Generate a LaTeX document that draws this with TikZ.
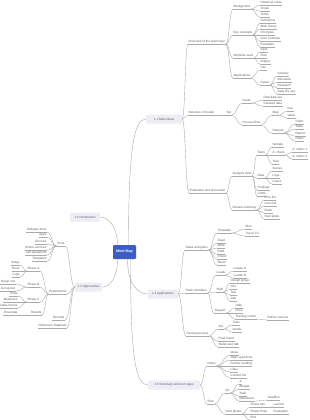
\documentclass[tikz,border=0pt]{standalone}
\usepackage{fontspec}
\setmainfont{Liberation Sans}
\usetikzlibrary{calc}
\definecolor{lc}{HTML}{ABABAB}
\definecolor{tc}{HTML}{5E5E5E}
\definecolor{bx}{HTML}{ECEDF5}
\definecolor{cb}{HTML}{3C5CC6}
\begin{document}
\begin{tikzpicture}[x=1pt,y=-1pt,
 tf/.style={font=\fontsize{3.1}{3.5}\selectfont},
 ulc/.style={draw=lc, line width=0.35pt},
 lf/.style={tf, text=tc, inner sep=0.4pt, text height=2.3pt, text depth=0.6pt,
   append after command={(\tikzlastnode.south west) edge[ulc] (\tikzlastnode.south east)}},
 R/.style={lf, anchor=west},
 L/.style={lf, anchor=east},
 box/.style={tf, text=tc, fill=bx, rounded corners=1pt, minimum height=9pt, inner sep=0},
 conn/.style={draw=lc, line width=0.4pt},
 cv/.style={to path={let \p1=(\tikztostart), \p2=(\tikztotarget) in
   .. controls ({(\x1+\x2)/2},\y1) and ({(\x1+\x2)/2},\y2) .. (\tikztotarget)}}
]
\useasboundingbox[fill=white] (0,0) rectangle (310,420);

% centre
\node[fill=cb, text=white, font=\fontsize{3.6}{4}\selectfont\bfseries, minimum width=23pt, minimum height=14pt, inner sep=0, rounded corners=1pt] (ctr) at (124.5,252) {Mind Map};

% level 1
\node[box, minimum width=36pt] (n1) at (164,119) {1.1 Main ideas};
\node[box, minimum width=30pt] (n2) at (85,217) {1.2 Introduction};
\node[box, minimum width=27pt] (n3) at (88.5,287) {1.3 Approaches};
\node[box, minimum width=30pt] (n4) at (163,294) {1.4 Applications};
\node[box, minimum width=52pt] (n5) at (174,385) {1.5 Summary and next steps};

\coordinate (cN1) at ([xshift=4pt]ctr.north);
\coordinate (cN2) at ([xshift=-7pt]ctr.north);
\coordinate (cS1) at ([xshift=-7pt]ctr.south);
\coordinate (cS2) at ([xshift=3pt]ctr.south);
\coordinate (cS3) at ([xshift=6pt]ctr.south);
\draw[conn] (cN1) .. controls +(0,-95) and +(-12,0) .. (n1.west);
\draw[conn] (cN2) .. controls +(0,-18) and +(8,0) .. (n2.east);
\draw[conn] (cS1) .. controls +(0,18) and +(8,0) .. (n3.east);
\draw[conn] (cS2) .. controls +(0,25) and +(-10,0) .. (n4.west);
\draw[conn] (cS3) .. controls +(0,100) and +(-12,0) .. (n5.west);

% ---- 1.1 subtree
\node[R] (A) at (188,42) {Overview of the main topic};
\node[R] (A1) at (233,7) {Background};
\node[R] (A1a) at (260,3) {Historical notes};
\node[R] (A1b) at (260,9) {Scope};
\node[R] (A1c) at (260,15) {Terms};
\node[R] (A2) at (233,33) {Key concepts};
\node[R] (A2a) at (260,21) {Definitions};
\node[R] (A2b) at (260,27) {Main theory};
\node[R] (A2c) at (260,33) {Principles};
\node[R] (A2d) at (260,39) {Core formulas};
\node[R] (A2e) at (260,45) {Examples};
\node[R] (A3) at (233,56) {Methods used};
\node[R] (A3a) at (260,50) {Input};
\node[R] (A3b) at (260,56) {Plan};
\node[R] (A3c) at (260,62) {Output};
\node[R] (A4) at (233,76) {Applications};
\node[R] (A4a) at (260,68) {Use};
\node[R] (A4b) at (260,83) {Cases};
\node[R] (A4b1) at (277,74) {Industry};
\node[R] (A4b2) at (277,80) {Education};
\node[R] (A4b3) at (277,86) {Research};
\node[R] (A4b4) at (277,92) {Daily life use};

\node[R] (B) at (188,113) {Structure of model};
\node[R] (B1) at (226,113) {Set};
\node[R] (B1a) at (242,101) {Inputs};
\node[R] (B1a1) at (263,98) {Raw data set};
\node[R] (B1a2) at (263,104) {Cleaned data};
\node[R] (B1b) at (242,123) {Process flow};
\node[R] (B1b1) at (272,113) {Map};
\node[R] (B1b1a) at (287,109) {Key};
\node[R] (B1b1b) at (287,116) {Value};
\node[R] (B1b2) at (272,131) {Outputs};
\node[R] (B1b2a) at (295,122) {Chart};
\node[R] (B1b2b) at (295,127) {Table};
\node[R] (B1b2c) at (295,134) {Report};
\node[R] (B1b2d) at (295,139) {Notes};

\node[R] (C) at (189,191) {Evaluation and discussion};
\node[R] (C1) at (232,174) {Analysis tools};
\node[R] (C1a) at (257,153) {Tests};
\node[R] (C1a1) at (272,145) {Sample};
\node[R] (C1a2) at (272,153) {A. check};
\node[R] (C1a2a) at (292,150) {A. metric 1};
\node[R] (C1a2b) at (292,157) {A. metric 2};
\node[R] (C1a3) at (272,162) {Trial};
\node[R] (C1b) at (257,176) {Data};
\node[R] (C1b1) at (272,169) {Survey};
\node[R] (C1b2) at (272,176) {Logs};
\node[R] (C1b3) at (272,182) {Cases};
\node[R] (C1c) at (257,188) {Findings};
\node[R] (C1d) at (257,194) {Limits};
\node[R] (C2) at (232,208) {Review summary};
\node[R] (C2a) at (264,198) {Pros list};
\node[R] (C2b) at (264,204) {Cons list};
\node[R] (C2c) at (264,211) {Risks};
\node[R] (C2d) at (264,217) {Next steps};

% ---- 1.4 subtree
\node[R] (D1) at (185,248) {Tasks and plans};
\node[R] (D1a) at (217,231) {Timetable};
\node[R] (D1a1) at (245,227) {Mon};
\node[R] (D1a2) at (245,234) {Tue to Fri};
\node[R] (D1b) at (217,241) {Read};
\node[R] (D1c) at (217,246) {Write};
\node[R] (D1d) at (217,252) {Draft};
\node[R] (D1e) at (217,257) {Check};
\node[R] (D1f) at (217,263) {Share};
\node[R] (D2) at (185,291) {Team members};
\node[R] (D2a) at (216,273) {Leads};
\node[R] (D2a1) at (233,269) {Leader A};
\node[R] (D2a2) at (233,276) {Leader B};
\node[R] (D2b) at (216,290) {Staff};
\node[R] (D2b1) at (230,281) {Design group};
\node[R] (D2b2) at (230,287) {Dev};
\node[R] (D2b3) at (230,293) {Test};
\node[R] (D2b4) at (230,299) {Ops};
\node[R] (D2c) at (214,311) {Support};
\node[R] (D2c1) at (235,306) {Help};
\node[R] (D2c2) at (235,311) {Docs};
\node[R] (D2c3) at (235,317) {Training center};
\node[R] (D2c3a) at (267,318) {Online courses};
\node[R] (D3) at (186,334) {Review process};
\node[R] (D3a) at (218,327) {QA};
\node[R] (D3a1) at (232,323) {Tests};
\node[R] (D3a2) at (232,330) {Audits};
\node[R] (D3b) at (218,339) {Final report};
\node[R] (D3c) at (218,345) {Slides and talk};

% ---- 1.5 subtree
\node[R] (E1) at (207,364) {Notes};
\node[R] (E1a) at (230,353) {Ideas};
\node[R] (E1b) at (230,358) {Open questions};
\node[R] (E1c) at (230,364) {Further reading};
\node[R] (E1d) at (230,370) {Links};
\node[R] (E1e) at (230,376) {Contact list};
\node[R] (E2) at (207,402) {Plan};
\node[R] (E2a) at (225,391) {Q1};
\node[R] (E2a1) at (239,382) {A};
\node[R] (E2a2) at (239,387) {Budget};
\node[R] (E2a3) at (239,394) {Staff};
\node[R] (E2a4) at (239,399) {Milestones};
\node[R] (E2a4a) at (267,398) {Deadline};
\node[R] (E2b) at (225,412) {Next phase};
\node[R] (E2b1) at (250,405) {Phase two};
\node[R] (E2b1a) at (273,405) {Launch};
\node[R] (E2b2) at (250,412) {Phase three};
\node[R] (E2b2a) at (273,412) {Evaluation};
\node[R] (E2b3) at (250,418) {End};

% ---- 1.3 subtree (left)
\node[L] (G0) at (65,244) {Tools};
\node[L] (G0a) at (47,230) {Software tools};
\node[L] (G0b) at (47,235) {Apps};
\node[L] (G0c) at (47,242) {Devices};
\node[L] (G0d) at (47,248) {Online services};
\node[L] (G0e) at (47,253) {Lab equipment};
\node[L] (G0f) at (47,259) {Templates};
\node[L] (G1) at (67,292) {Experiments};
\node[L] (G1a) at (40,269) {Phase A};
\node[L] (G1a1) at (20,263) {Setup};
\node[L] (G1a2) at (20,269) {Runs};
\node[L] (G1a3) at (20,275) {Logs};
\node[L] (G1b) at (40,285) {Phase B};
\node[L] (G1b1) at (16,282) {Group one};
\node[L] (G1b2) at (16,289) {Group two};
\node[L] (G1c) at (40,300) {Phase C};
\node[L] (G1c1) at (18,294) {Trials};
\node[L] (G1c2) at (18,300) {Measures};
\node[L] (G1c3) at (18,306) {Data checks};
\node[L] (G1d) at (42,313) {Results};
\node[L] (G1d1) at (18,313) {Final data};
\node[L] (G2) at (65,318) {Records};
\node[L] (G3) at (67,326) {Reference materials};

% ---- connectors from boxes
\foreach \b in {A,B,C} \draw[conn] (n1.east) to[cv] (\b.south west);
\foreach \b in {D1,D2,D3} \draw[conn] (n4.east) to[cv] (\b.south west);
\foreach \b in {E1,E2} \draw[conn] (n5.east) to[cv] (\b.south west);
\foreach \b in {G0,G1,G2,G3} \draw[conn] (n3.west) to[cv] (\b.south east);

% ---- right-side connectors
\foreach \a/\b in {A/A1,A/A2,A/A3,A/A4,A1/A1a,A1/A1b,A1/A1c,A2/A2a,A2/A2b,A2/A2c,A2/A2d,A2/A2e,
  A3/A3a,A3/A3b,A3/A3c,A4/A4a,A4/A4b,A4b/A4b1,A4b/A4b2,A4b/A4b3,A4b/A4b4,
  B/B1,B1/B1a,B1/B1b,B1a/B1a1,B1a/B1a2,B1b/B1b1,B1b/B1b2,B1b1/B1b1a,B1b1/B1b1b,
  B1b2/B1b2a,B1b2/B1b2b,B1b2/B1b2c,B1b2/B1b2d,
  C/C1,C/C2,C1/C1a,C1/C1b,C1/C1c,C1/C1d,C1a/C1a1,C1a/C1a2,C1a/C1a3,C1a2/C1a2a,C1a2/C1a2b,
  C1b/C1b1,C1b/C1b2,C1b/C1b3,C2/C2a,C2/C2b,C2/C2c,C2/C2d,
  D1/D1a,D1/D1b,D1/D1c,D1/D1d,D1/D1e,D1/D1f,D1a/D1a1,D1a/D1a2,
  D2/D2a,D2/D2b,D2/D2c,D2a/D2a1,D2a/D2a2,D2b/D2b1,D2b/D2b2,D2b/D2b3,D2b/D2b4,
  D2c/D2c1,D2c/D2c2,D2c/D2c3,D2c3/D2c3a,
  D3/D3a,D3/D3b,D3/D3c,D3a/D3a1,D3a/D3a2,
  E1/E1a,E1/E1b,E1/E1c,E1/E1d,E1/E1e,E2/E2a,E2/E2b,E2a/E2a1,E2a/E2a2,E2a/E2a3,E2a/E2a4,
  E2a4/E2a4a,E2b/E2b1,E2b/E2b2,E2b/E2b3,E2b1/E2b1a,E2b2/E2b2a}
  \draw[conn] (\a.south east) to[cv] (\b.south west);

% ---- left-side connectors
\foreach \a/\b in {G0/G0a,G0/G0b,G0/G0c,G0/G0d,G0/G0e,G0/G0f,
  G1/G1a,G1/G1b,G1/G1c,G1/G1d,G1a/G1a1,G1a/G1a2,G1a/G1a3,G1b/G1b1,G1b/G1b2,
  G1c/G1c1,G1c/G1c2,G1c/G1c3,G1d/G1d1}
  \draw[conn] (\a.south west) to[cv] (\b.south east);
\end{tikzpicture}
\end{document}
